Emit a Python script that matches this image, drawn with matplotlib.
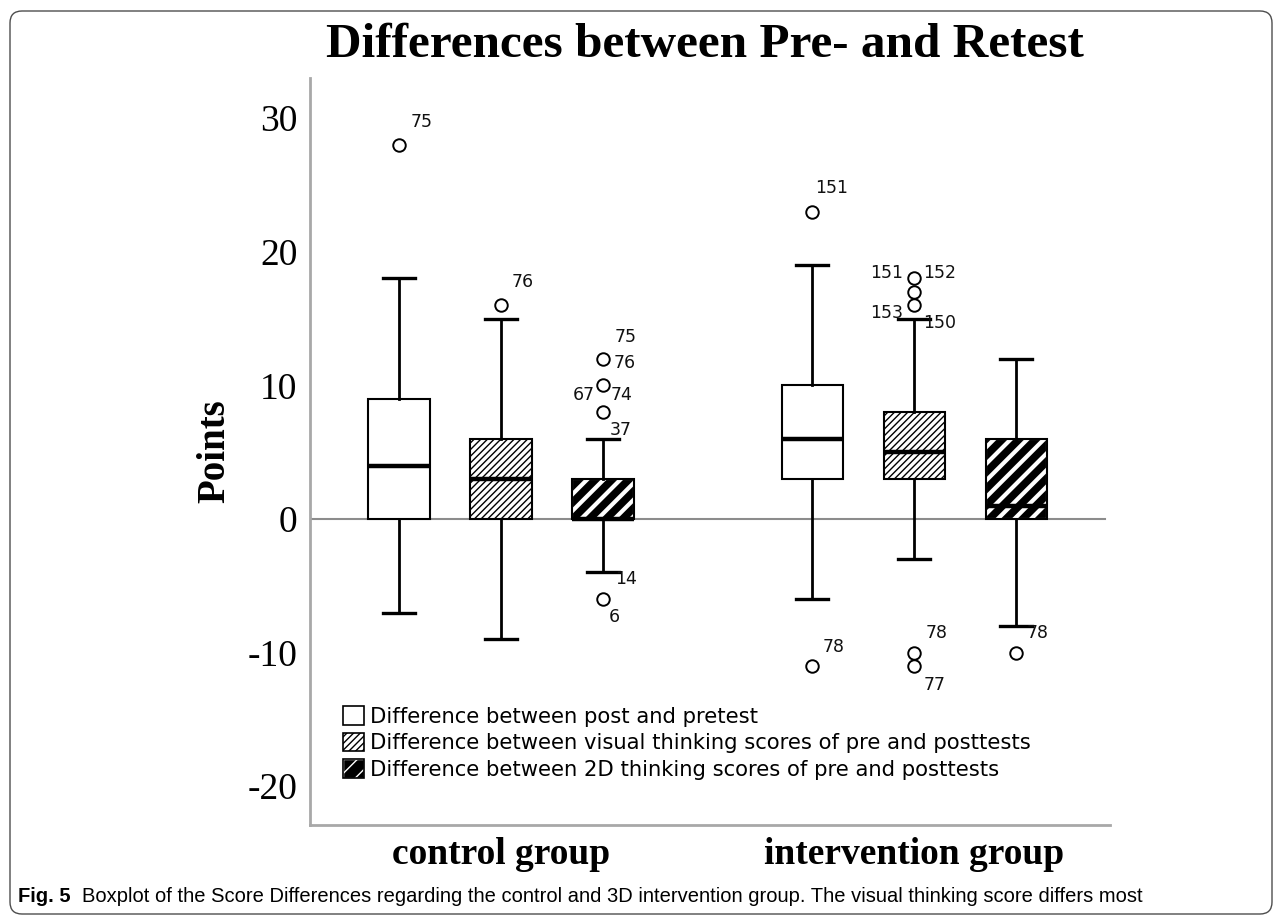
import matplotlib
matplotlib.use('Agg')
import matplotlib.pyplot as plt
from matplotlib.patches import Patch, PathPatch, FancyBboxPatch

groups = ['control group', 'intervention group']
series = ['Difference between post and pretest',
          'Difference between visual thinking scores of pre and posttests',
          'Difference between 2D thinking scores of pre and posttests']

# boxes: control (post-pre, visual, 2D), then intervention (same order)
whislo = [-7, -9, -4, -6, -3, -8]
q1 = [0, 0, 0, 3, 3, 0]
med = [4, 3, 0, 6, 5, 1]
q3 = [9, 6, 3, 10, 8, 6]
whishi = [18, 15, 6, 19, 15, 12]
fliers = [[28], [16], [12, 10, 8, -6], [23, -11], [18, 17, 16, -10, -11], [-10]]

# case numbers printed beside the outliers: (box, case id, label height)
case_ids = [(0, '75', 29.7), (1, '76', 17.7),
            (2, '75', 13.6), (2, '76', 11.7), (2, '67', 9.3), (2, '74', 9.3),
            (2, '37', 6.65), (2, '14', -4.5), (2, '6', -7.3),
            (3, '151', 24.8), (3, '78', -9.6),
            (4, '151', 18.4), (4, '152', 18.4), (4, '153', 15.4), (4, '150', 14.7),
            (4, '78', -8.5), (4, '77', -12.4),
            (5, '78', -8.5)]
# horizontal offset of each case label from its box centre
case_dx = [0.11, 0.10, 0.11, 0.10, -0.30, 0.07, 0.07, 0.12, 0.06,
           0.03, 0.10, -0.43, 0.09, -0.43, 0.09, 0.11, 0.09, 0.10]

serif = 'Liberation Serif'
fig = plt.figure(figsize=(12.82, 9.19), dpi=100)
ax = fig.add_axes([0.2418, 0.1023, 0.6240, 0.8128])

pos = [g * 4.05 + i + 1 for g in range(2) for i in range(3)]
stats = [dict(whislo=a, q1=b, med=c, q3=d, whishi=e, fliers=f)
         for a, b, c, d, e, f in zip(whislo, q1, med, q3, whishi, fliers)]

ax.axhline(0, xmin=0, xmax=0.994, color='#8c8c8c', lw=1.5, zorder=1)

bp = ax.bxp(stats, positions=pos, widths=0.6, capwidths=0.31, patch_artist=True,
            boxprops=dict(lw=1.5, edgecolor='black', facecolor='white'),
            whiskerprops=dict(lw=2, color='black'),
            capprops=dict(lw=2.4, color='black'),
            medianprops=dict(color='black', lw=3.2),
            flierprops=dict(marker='o', mfc='none', mec='black', ms=9, mew=1.4),
            zorder=3)

for i, box in enumerate(bp['boxes']):
    kind = i % 3
    if kind == 1:
        box.set_hatch('/////')
        if hasattr(box, 'set_hatch_linewidth'):
            box.set_hatch_linewidth(1.0)
    elif kind == 2:
        box.set_facecolor('black')
        box.set_edgecolor('white')
        box.set_hatch('//')
        if hasattr(box, 'set_hatch_linewidth'):
            box.set_hatch_linewidth(3.0)
        ax.add_patch(PathPatch(box.get_path(), fill=False, edgecolor='black',
                               lw=1.5, zorder=3.5))

for (b, cid, yv), dx in zip(case_ids, case_dx):
    ax.text(pos[b] + dx, yv, cid, fontsize=12.5, ha='left', va='center',
            family='DejaVu Sans', color='#111111')

ax.set_xlim(0.127, 7.97)
ax.set_ylim(-22.9, 33.0)
ax.set_yticks([-20, -10, 0, 10, 20, 30])
ax.set_yticklabels(['-20', '-10', '0', '10', '20', '30'], family=serif, fontsize=27)
ax.set_xticks([pos[1], pos[4]])
ax.set_xticklabels(groups, family=serif, fontsize=27, fontweight='bold')
ax.tick_params(axis='y', length=0, pad=9)
ax.tick_params(axis='x', length=0, pad=9)
for s in ['top', 'right']:
    ax.spines[s].set_visible(False)
for s in ['left', 'bottom']:
    ax.spines[s].set_color('#a8a8a8')
    ax.spines[s].set_linewidth(2)

# legend
h1 = Patch(facecolor='white', edgecolor='black', lw=1.2)
h2 = Patch(facecolor='white', edgecolor='black', lw=1.2, hatch='/////')
h3a = Patch(facecolor='black', edgecolor='white', hatch='//')
h3b = Patch(facecolor='none', edgecolor='black', lw=1.2)
ax.legend([h1, h2, (h3a, h3b)], series, loc='upper left',
          bbox_to_anchor=(343 / 1282, 1 - 706 / 919), bbox_transform=fig.transFigure,
          frameon=False, fontsize=15.2, handlelength=1.0, handleheight=1.0,
          handletextpad=0.3, labelspacing=0.28, borderpad=0, borderaxespad=0)

fig.text(705 / 1282, 1 - 45 / 919, 'Differences between Pre- and Retest', family=serif,
         fontsize=35.5, fontweight='bold', ha='center', va='center')
fig.text(215 / 1282, 1 - 451 / 919, 'Points', family=serif, fontsize=28,
         fontweight='bold', rotation=90, ha='center', va='center')

cap_font = 'Liberation Sans'
t1 = fig.text(18 / 1282, 1 - 897 / 919, 'Fig. 5', family=cap_font, fontsize=14.5,
              fontweight='bold', ha='left', va='center')
ax.annotate('Boxplot of the Score Differences regarding the control and 3D intervention group. '
            'The visual thinking score differs most',
            xy=(1, 0.5), xycoords=t1, xytext=(8, 0), textcoords='offset points',
            family=cap_font, fontsize=14.5, ha='left', va='center', annotation_clip=False)

frame = FancyBboxPatch((0.10, 0.05), 12.62, 9.03, boxstyle='round,pad=0,rounding_size=0.12',
                       transform=fig.dpi_scale_trans, fill=False, edgecolor='#4d4d4d', lw=1.0)
fig.patches.append(frame)

fig.savefig('out.png', dpi=100)
